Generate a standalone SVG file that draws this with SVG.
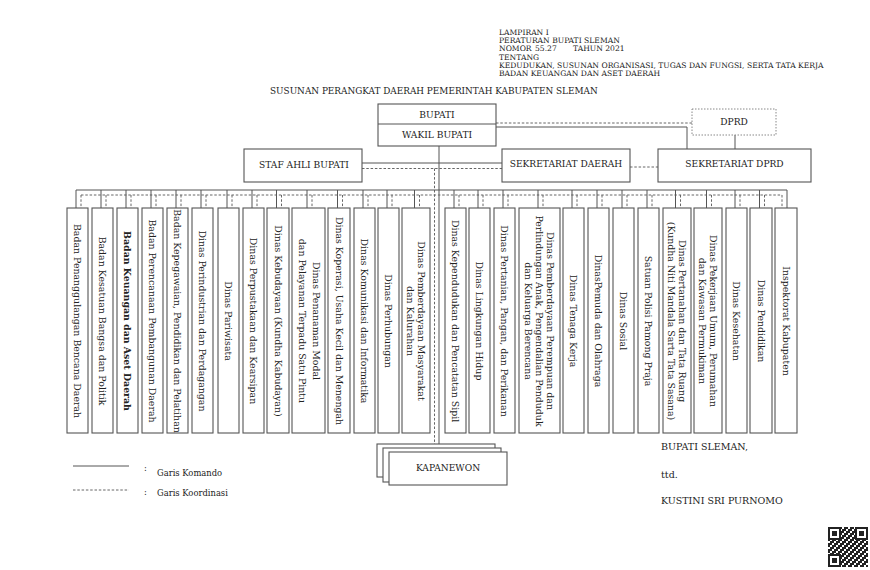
<svg xmlns="http://www.w3.org/2000/svg" width="870" height="570" viewBox="0 0 870 570">
<style>
.box{fill:#fff;stroke:#555;stroke-width:1.1}
.dot{fill:#fff;stroke:#888;stroke-width:1;stroke-dasharray:1.5 1.5}
.sol{fill:none;stroke:#555;stroke-width:1}
.dsh{fill:none;stroke:#666;stroke-width:1;stroke-dasharray:2.5 1.8}
.t{font-family:"DejaVu Serif","Liberation Serif",serif;fill:#222}
.h{font-size:7.6px}
.b{font-size:9.1px;text-anchor:middle}
.v{font-family:"DejaVu Serif","Liberation Serif",serif;fill:#222;font-size:9.4px;text-anchor:middle}
.s{font-size:9.5px}
</style>
<defs>
<pattern id="qr" width="6" height="6" patternUnits="userSpaceOnUse" x="828" y="527">
<rect width="6" height="6" fill="#fff"/>
<rect x="0" y="0" width="2" height="2" fill="#222"/>
<rect x="4" y="0" width="2" height="4" fill="#222"/>
<rect x="2" y="2" width="2" height="2" fill="#222"/>
<rect x="0" y="4" width="4" height="2" fill="#222"/>
</pattern>
</defs>
<rect width="870" height="570" fill="#fff"/>

<g id="header" class="t h">
<text x="499" y="35">LAMPIRAN I</text>
<text x="499" y="43.2">PERATURAN BUPATI SLEMAN</text>
<text x="499" y="51.4">NOMOR</text>
<text x="535" y="51.4">55.27</text>
<text x="573" y="51.4">TAHUN 2021</text>
<text x="499" y="59.6">TENTANG</text>
<text x="499" y="67.8">KEDUDUKAN, SUSUNAN ORGANISASI, TUGAS DAN FUNGSI, SERTA TATA KERJA</text>
<text x="499" y="76">BADAN KEUANGAN DAN ASET DAERAH</text>
</g>
<text id="title" class="t" x="270" y="93.5" font-size="8.9px">SUSUNAN PERANGKAT DAERAH PEMERINTAH KABUPATEN SLEMAN</text>

<g id="connectors">
<path class="dsh" d="M496 123H692"/>
<path class="sol" d="M496 127H687V149"/>
<path class="sol" d="M735 135V149"/>
<path class="sol" d="M362 163H502"/>
<path class="dsh" d="M362 168.5H502"/>
<path class="dsh" d="M630 167H658"/>
<path class="sol" d="M439 146V444"/>
<path class="dsh" d="M434.5 168.5V444"/>
<path class="sol" d="M76 190H787"/>
<path class="dsh" d="M81 195H782"/>
<path class="sol" d="M76 190V208M101 190V208M126 190V208M151 190V208M176 190V208M201 190V208M227 190V208M252 190V208M276.5 190V208M307 190V208M337.5 190V208M363 190V208M387 190V208M414.5 190V208M454 190V208M478 190V208M503 190V208M538 190V208M572 190V208M597 190V208M622 190V208M647 190V208M675.5 190V208M706.5 190V208M735 190V208M759.5 190V208M787 190V208"/>
<path class="dsh" d="M81 195V208M106 195V208M131 195V208M156 195V208M181 195V208M206 195V208M232 195V208M257 195V208M281.5 195V208M312 195V208M342.5 195V208M368 195V208M392 195V208M419.5 195V208M459 195V208M483 195V208M508 195V208M543 195V208M577 195V208M602 195V208M627 195V208M652 195V208M680.5 195V208M711.5 195V208M740 195V208M764.5 195V208M782 195V208"/>
</g>

<g id="bupati">
<rect class="box" x="378" y="104" width="118" height="42"/>
<line class="sol" x1="378" y1="124" x2="496" y2="124"/>
<text class="t b" x="437" y="117.5">BUPATI</text>
<text class="t b" x="437" y="137.5">WAKIL BUPATI</text>
</g>
<g id="dprd">
<rect class="dot" x="692" y="109" width="84" height="26"/>
<text class="t b" x="734" y="124.5">DPRD</text>
</g>
<g id="staf-ahli">
<rect class="box" x="244" y="149" width="118" height="33"/>
<text class="t b" x="304" y="168">STAF AHLI BUPATI</text>
</g>
<g id="sekda">
<rect class="box" x="502" y="149" width="128" height="33"/>
<text class="t b" x="566" y="167">SEKRETARIAT DAERAH</text>
</g>
<g id="sekdprd">
<rect class="box" x="658" y="149" width="153" height="33"/>
<text class="t b" x="734.5" y="167">SEKRETARIAT DPRD</text>
</g>

<g id="n1"><rect class="box" x="67" y="208" width="21" height="225"/><text class="v" transform="translate(77.5,321) rotate(90)" y="3.3">Badan Penanggulangan Bencana Daerah</text></g>
<g id="n2"><rect class="box" x="92" y="208" width="21" height="225"/><text class="v" transform="translate(102.5,321) rotate(90)" y="3.3">Badan Kesatuan Bangsa dan Politik</text></g>
<g id="n3"><rect class="box" x="117" y="208" width="21" height="225"/><text class="v" transform="translate(127.5,321) rotate(90)" y="3.3" font-weight="bold">Badan Keuangan dan Aset Daerah</text></g>
<g id="n4"><rect class="box" x="142" y="208" width="21" height="225"/><text class="v" transform="translate(152.5,321) rotate(90)" y="3.3">Badan Perencanaan Pembangunan Daerah</text></g>
<g id="n5"><rect class="box" x="167" y="208" width="21" height="225"/><text class="v" transform="translate(177.5,321) rotate(90)" y="3.3" font-size="9.2px">Badan Kepegawaian, Pendidikan dan Pelatihan</text></g>
<g id="n6"><rect class="box" x="192" y="208" width="21" height="225"/><text class="v" transform="translate(202.5,321) rotate(90)" y="3.3">Dinas Perindustrian dan Perdagangan</text></g>
<g id="n7"><rect class="box" x="218" y="208" width="21" height="225"/><text class="v" transform="translate(228.5,321) rotate(90)" y="3.3">Dinas Pariwisata</text></g>
<g id="n8"><rect class="box" x="243" y="208" width="21" height="225"/><text class="v" transform="translate(253.5,321) rotate(90)" y="3.3">Dinas Perpustakaan dan Kearsipan</text></g>
<g id="n9"><rect class="box" x="267" y="208" width="22" height="225"/><text class="v" transform="translate(278,321) rotate(90)" y="3.3">Dinas Kebudayaan (Kundha Kabudayan)</text></g>
<g id="n10"><rect class="box" x="292" y="208" width="33" height="225"/><text class="v" transform="translate(308.5,321) rotate(90)"><tspan x="0" y="-4.2">Dinas Penanaman Modal</tspan><tspan x="0" y="9.8">dan Pelayanan Terpadu Satu Pintu</tspan></text></g>
<g id="n11"><rect class="box" x="328" y="208" width="22" height="225"/><text class="v" transform="translate(339,321) rotate(90)" y="3.3">Dinas Koperasi, Usaha Kecil dan Menengah</text></g>
<g id="n12"><rect class="box" x="354" y="208" width="21" height="225"/><text class="v" transform="translate(364.5,321) rotate(90)" y="3.3">Dinas Komunikasi dan Informatika</text></g>
<g id="n13"><rect class="box" x="378" y="208" width="21" height="225"/><text class="v" transform="translate(388.5,321) rotate(90)" y="3.3">Dinas Perhubungan</text></g>
<g id="n14"><rect class="box" x="402" y="208" width="28" height="225"/><text class="v" transform="translate(416,321) rotate(90)"><tspan x="0" y="-2.2">Dinas Pemberdayaan Masyarakat</tspan><tspan x="0" y="8.8">dan Kalurahan</tspan></text></g>
<g id="n15"><rect class="box" x="445" y="208" width="21" height="225"/><text class="v" transform="translate(455.5,321) rotate(90)" y="3.3">Dinas Kependudukan dan Pencatatan Sipil</text></g>
<g id="n16"><rect class="box" x="469" y="208" width="21" height="225"/><text class="v" transform="translate(479.5,321) rotate(90)" y="3.3">Dinas Lingkungan Hidup</text></g>
<g id="n17"><rect class="box" x="494" y="208" width="21" height="225"/><text class="v" transform="translate(504.5,321) rotate(90)" y="3.3">Dinas Pertanian, Pangan, dan Perikanan</text></g>
<g id="n18"><rect class="box" x="519" y="208" width="41" height="225"/><text class="v" transform="translate(539.5,321) rotate(90)"><tspan x="0" y="-7.7">Dinas Pemberdayaan Perempuan dan</tspan><tspan x="0" y="3.3">Perlindungan Anak, Pengendalian Penduduk</tspan><tspan x="0" y="14.3">dan Keluarga Berencana</tspan></text></g>
<g id="n19"><rect class="box" x="563" y="208" width="21" height="225"/><text class="v" transform="translate(573.5,321) rotate(90)" y="3.3">Dinas Tenaga Kerja</text></g>
<g id="n20"><rect class="box" x="588" y="208" width="21" height="225"/><text class="v" transform="translate(598.5,321) rotate(90)" y="3.3">DinasPemuda dan Olahraga</text></g>
<g id="n21"><rect class="box" x="613" y="208" width="21" height="225"/><text class="v" transform="translate(623.5,321) rotate(90)" y="3.3">Dinas Sosial</text></g>
<g id="n22"><rect class="box" x="638" y="208" width="21" height="225"/><text class="v" transform="translate(648.5,321) rotate(90)" y="3.3">Satuan Polisi Pamong Praja</text></g>
<g id="n23"><rect class="box" x="663" y="208" width="28" height="225"/><text class="v" transform="translate(677,321) rotate(90)"><tspan x="0" y="-2.2">Dinas Pertanahan dan Tata Ruang</tspan><tspan x="0" y="8.8">(Kundha Niti Mandala Sarta Tata Sasana)</tspan></text></g>
<g id="n24"><rect class="box" x="694" y="208" width="28" height="225"/><text class="v" transform="translate(708,321) rotate(90)"><tspan x="0" y="-2.2">Dinas Pekerjaan Umum, Perumahan</tspan><tspan x="0" y="8.8">dan Kawasan Permukiman</tspan></text></g>
<g id="n25"><rect class="box" x="726" y="208" width="21" height="225"/><text class="v" transform="translate(736.5,321) rotate(90)" y="3.3">Dinas Kesehatan</text></g>
<g id="n26"><rect class="box" x="750" y="208" width="22" height="225"/><text class="v" transform="translate(761,321) rotate(90)" y="3.3">Dinas Pendidikan</text></g>
<g id="n27"><rect class="box" x="775" y="208" width="22" height="225"/><text class="v" transform="translate(786,321) rotate(90)" y="3.3">Inspektorat Kabupaten</text></g>

<g id="kapanewon">
<rect class="box" x="377" y="444" width="118" height="33"/>
<rect class="box" x="383" y="448" width="118" height="34"/>
<rect class="box" x="389" y="452" width="118" height="33"/>
<text class="t b" x="448" y="471">KAPANEWON</text>
</g>

<g id="legend">
<line class="sol" x1="73" y1="466" x2="129" y2="466"/>
<line class="dsh" x1="73" y1="490" x2="129" y2="490"/>
<text class="t" x="144" y="471" font-size="8.4px">:</text>
<text class="t" x="157" y="476" font-size="8.4px">Garis Komando</text>
<text class="t" x="144" y="495" font-size="8.4px">:</text>
<text class="t" x="157" y="496" font-size="8.4px">Garis Koordinasi</text>
</g>

<g id="signature" class="t s">
<text x="661" y="449.5">BUPATI SLEMAN,</text>
<text x="661" y="478">ttd.</text>
<text x="661" y="503.5">KUSTINI SRI PURNOMO</text>
</g>

<g id="qrcode">
<rect x="828" y="527" width="40" height="40" fill="url(#qr)"/>
<rect x="829" y="528" width="11" height="11" fill="#fff" stroke="#222" stroke-width="2"/>
<rect x="832" y="531" width="5" height="5" fill="#222"/>
<rect x="856" y="528" width="11" height="11" fill="#fff" stroke="#222" stroke-width="2"/>
<rect x="859" y="531" width="5" height="5" fill="#222"/>
<rect x="829" y="555" width="11" height="11" fill="#fff" stroke="#222" stroke-width="2"/>
<rect x="832" y="558" width="5" height="5" fill="#222"/>
</g>
</svg>
